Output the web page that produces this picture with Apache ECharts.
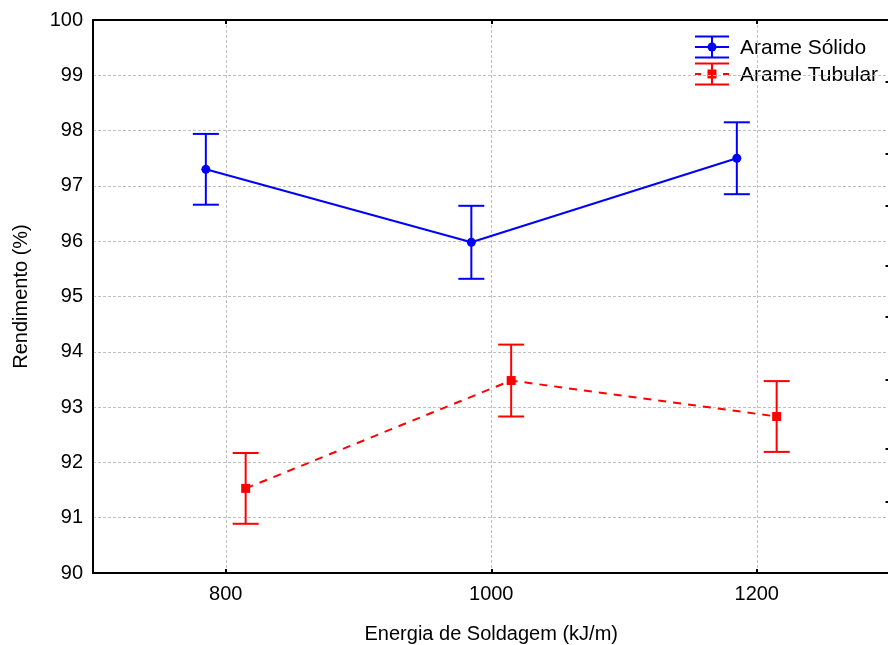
<!DOCTYPE html>
<html>
<head>
<meta charset="utf-8">
<script src="https://cdn.jsdelivr.net/npm/echarts@6/dist/echarts.min.js"></script>
<style>
  html, body { margin: 0; padding: 0; background: #fff; }
  #chart { width: 888px; height: 645px; }
</style>
</head>
<body>
<div id="chart"></div>
<script>
// Welding energy vs. deposition efficiency, two wire types with error bars
const seriesNames = ['Arame Sólido', 'Arame Tubular'];

const solidX = [785, 985, 1185];
const solidY = [97.30, 95.98, 97.50];
const solidErr = [0.64, 0.66, 0.65];

const tubularX = [815, 1015, 1215];
const tubularY = [91.53, 93.48, 92.83];
const tubularErr = [0.64, 0.65, 0.64];

const xTicks = [800, 1000, 1200];
const rightTicks = [98.88, 97.59, 96.65, 95.55, 94.63, 93.5, 92.24, 91.28];

const FONT = 'Liberation Sans, Arial, sans-serif';
const FS = 20;
const BLUE = '#0000ff';
const RED = '#ff0000';

function pairs(xs, ys) { return xs.map((x, i) => [x, ys[i]]); }
function errRows(xs, ys, es) { return xs.map((x, i) => [x, ys[i] - es[i], ys[i] + es[i]]); }

function errorBarSeries(name, rows, color) {
  return {
    name: name,
    type: 'custom',
    xAxisIndex: 0,
    yAxisIndex: 0,
    data: rows,
    z: 3,
    renderItem: function (params, api) {
      const x = api.value(0);
      const lo = api.coord([x, api.value(1)]);
      const hi = api.coord([x, api.value(2)]);
      const cap = 13;
      const style = { stroke: color, lineWidth: 2 };
      return {
        type: 'group',
        children: [
          { type: 'line', shape: { x1: lo[0], y1: lo[1], x2: hi[0], y2: hi[1] }, style: style },
          { type: 'line', shape: { x1: lo[0] - cap, y1: lo[1], x2: lo[0] + cap, y2: lo[1] }, style: style },
          { type: 'line', shape: { x1: hi[0] - cap, y1: hi[1], x2: hi[0] + cap, y2: hi[1] }, style: style }
        ]
      };
    }
  };
}

// Legend entries drawn as error-bar glyphs with their labels
function legendEntry(top, color, marker, dashed, label) {
  const cx = 712, half = 17, capDy = 10.5;
  const st = { stroke: color, lineWidth: 2 };
  const children = [
    { type: 'line', shape: { x1: cx - half, y1: top - capDy, x2: cx + half, y2: top - capDy }, style: st },
    { type: 'line', shape: { x1: cx - half, y1: top + capDy, x2: cx + half, y2: top + capDy }, style: st },
    { type: 'line', shape: { x1: cx, y1: top - capDy, x2: cx, y2: top + capDy }, style: st },
    { type: 'line', shape: { x1: cx - half, y1: top, x2: cx + half, y2: top },
      style: { stroke: color, lineWidth: 2, lineDash: dashed ? [6, 22] : null, lineDashOffset: 0 } }
  ];
  if (marker === 'circle') {
    children.push({ type: 'circle', shape: { cx: cx, cy: top, r: 4.5 }, style: { fill: color } });
  } else {
    children.push({ type: 'rect', shape: { x: cx - 4.5, y: top - 4.5, width: 9, height: 9 }, style: { fill: color } });
  }
  children.push({
    type: 'text', x: 740, y: top + 1,
    style: { text: label, fill: '#000', font: '21px ' + FONT, verticalAlign: 'middle', align: 'left' }
  });
  return { type: 'group', children: children };
}

const gridDash = { color: '#c0c0c0', type: [3, 2], width: 1 };
const axisBlack = { color: '#000', width: 2 };
const plainNumber = v => String(v);

const option = {
  animation: false,
  backgroundColor: '#fff',
  grid: { left: 93, top: 20, width: 796.5, bottom: 72, containLabel: false, outerBoundsMode: 'none' },
  xAxis: [
    {
      type: 'value', position: 'bottom', min: 700, max: 1300,
      name: 'Energia de Soldagem (kJ/m)', nameLocation: 'middle', nameGap: 51,
      nameTextStyle: { fontFamily: FONT, fontSize: FS, color: '#000' },
      axisLine: { show: true, lineStyle: axisBlack },
      axisTick: { show: true, inside: true, length: 4, customValues: xTicks, lineStyle: { color: '#000', width: 2 } },
      axisLabel: { customValues: xTicks, formatter: plainNumber, fontFamily: FONT, fontSize: FS, color: '#000', margin: 11 },
      splitLine: { show: true, lineStyle: gridDash }
    },
    {
      type: 'value', position: 'top', min: 700, max: 1300,
      axisLine: { show: true, lineStyle: axisBlack },
      axisTick: { show: true, inside: true, length: 4, customValues: xTicks, lineStyle: { color: '#000', width: 2 } },
      axisLabel: { show: false },
      splitLine: { show: false }
    }
  ],
  yAxis: [
    {
      type: 'value', position: 'left', min: 90, max: 100, interval: 1,
      name: 'Rendimento (%)', nameLocation: 'middle', nameGap: 62, nameRotate: 90,
      nameTextStyle: { fontFamily: FONT, fontSize: FS, color: '#000' },
      axisLine: { show: true, lineStyle: axisBlack },
      axisTick: { show: false },
      axisLabel: { formatter: plainNumber, fontFamily: FONT, fontSize: FS, color: '#000', margin: 10 },
      splitLine: { show: true, lineStyle: gridDash }
    },
    {
      type: 'value', position: 'right', min: 90, max: 100,
      axisLine: { show: false },
      axisTick: { show: true, inside: true, length: 4, customValues: rightTicks, lineStyle: { color: '#000', width: 2 } },
      axisLabel: { show: false },
      splitLine: { show: false }
    }
  ],
  series: [
    errorBarSeries(seriesNames[0], errRows(solidX, solidY, solidErr), BLUE),
    errorBarSeries(seriesNames[1], errRows(tubularX, tubularY, tubularErr), RED),
    {
      name: seriesNames[0], type: 'line', xAxisIndex: 0, yAxisIndex: 0,
      data: pairs(solidX, solidY), z: 4,
      symbol: 'circle', symbolSize: 9,
      lineStyle: { color: BLUE, width: 2 },
      itemStyle: { color: BLUE }
    },
    {
      name: seriesNames[1], type: 'line', xAxisIndex: 0, yAxisIndex: 0,
      data: pairs(tubularX, tubularY), z: 4,
      symbol: 'rect', symbolSize: 9,
      lineStyle: { color: RED, width: 2, type: [8, 7] },
      itemStyle: { color: RED }
    }
  ],
  graphic: [
    legendEntry(47, BLUE, 'circle', false, seriesNames[0]),
    legendEntry(74, RED, 'rect', true, seriesNames[1])
  ]
};

const chart = echarts.init(document.getElementById('chart'), null, { renderer: 'canvas' });
chart.setOption(option);
</script>
</body>
</html>
